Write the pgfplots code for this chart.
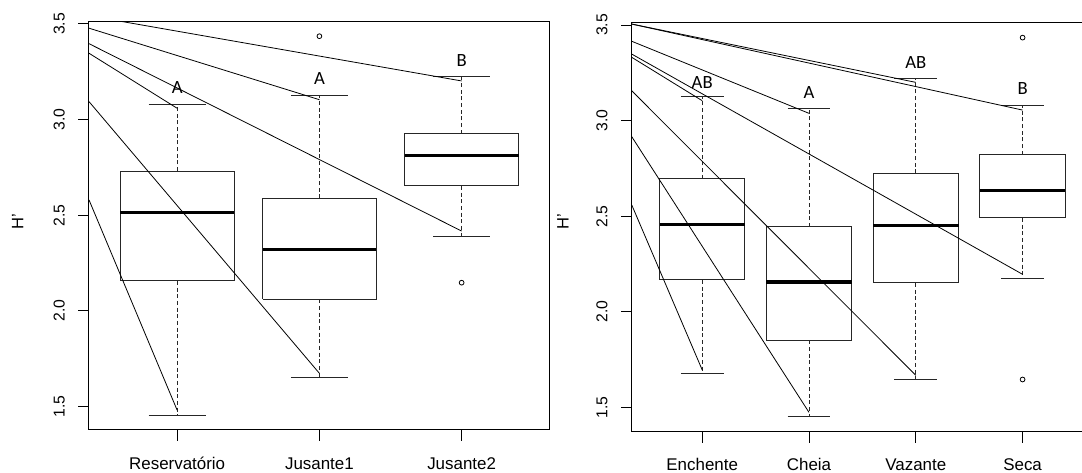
\documentclass[border=0pt]{standalone}
\usepackage{pgfplots}
\pgfplotsset{compat=1.18}
\usepackage{fontspec}
\setmainfont{Liberation Sans}
\newfontfamily\carlito{Carlito}

\pgfplotsset{
  boxst/.style={black!85, line width=0.75pt, no markers},
  medst/.style={black, line width=2.4pt, no markers},
  whst/.style={black!85, line width=0.75pt, dash pattern=on 3pt off 2pt, no markers},
  capst/.style={black!85, line width=0.75pt, no markers},
  diag/.style={black, line width=0.6pt, no markers},
  outl/.style={only marks, mark=o, mark size=1.8pt, black, mark options={line width=0.6pt}},
  rbase/.style={
    scale only axis, anchor=south west,
    axis line style={line width=0.75pt},
    tick style={line width=0.75pt, black},
    tick align=outside, major tick length=8pt,
    xtick pos=bottom, ytick pos=left,
    ytick={1.5,2.0,2.5,3.0,3.5},
    yticklabels={1.5,2.0,2.5,3.0,3.5},
    yticklabel style={rotate=90, anchor=south, inner sep=0pt, font=\fontsize{11.8}{13}\selectfont},
    yticklabel shift=10pt,
    xticklabel style={anchor=base, inner sep=0pt, font=\fontsize{12.7}{14}\selectfont},
    xticklabel shift=21.25pt,
    ylabel={H'},
    ylabel style={anchor=center, font=\fontsize{12.4}{14}\selectfont},
  },
}
\tikzset{letter/.style={anchor=base, inner sep=0pt, font=\carlito\fontsize{14}{16}\selectfont}}

\newcommand{\rbox}[6]{% x, lower whisker, lower quartile, median, upper quartile, upper whisker
  \pgfmathsetmacro{\xl}{#1-0.4}\pgfmathsetmacro{\xr}{#1+0.4}%
  \pgfmathsetmacro{\cl}{#1-0.2}\pgfmathsetmacro{\cr}{#1+0.2}%
  \addplot[boxst] coordinates {(\xl,#3) (\xr,#3) (\xr,#5) (\xl,#5) (\xl,#3)};
  \addplot[medst] coordinates {(\xl,#4) (\xr,#4)};
  \addplot[whst] coordinates {(#1,#5) (#1,#6)};
  \addplot[whst] coordinates {(#1,#3) (#1,#2)};
  \addplot[capst] coordinates {(\cl,#6) (\cr,#6)};
  \addplot[capst] coordinates {(\cl,#2) (\cr,#2)};
}

\begin{document}
\begin{tikzpicture}
\path[use as bounding box] (0,0) rectangle (811.5pt,-354.75pt);

% ---------------- left panel ----------------
\begin{axis}[rbase,
  at={(66.75pt,-322.5pt)}, width=345.6pt, height=306.4pt,
  xmin=0.38, xmax=3.62, ymin=1.3766, ymax=3.5131,
  xtick={1,2,3}, xticklabels={Reservatório,Jusante1,Jusante2},
  ylabel style={at={(axis description cs:-0.155,0.51)}},
]
\rbox{1}{1.455}{2.156}{2.515}{2.731}{3.080}
\rbox{2}{1.649}{2.060}{2.322}{2.588}{3.125}
\rbox{3}{2.391}{2.653}{2.813}{2.926}{3.223}
\addplot[outl] coordinates {(2,3.436) (3,2.147)};
% annotation lines
\addplot[diag] coordinates {(0.38,3.543) (3,3.202)};
\addplot[diag] coordinates {(0.38,3.478) (2,3.104)};
\addplot[diag] coordinates {(0.38,3.397) (3,2.417)};
\addplot[diag] coordinates {(0.38,3.347) (1,3.059)};
\addplot[diag] coordinates {(0.38,3.094) (2,1.673)};
\addplot[diag] coordinates {(0.38,2.580) (1,1.480)};
\node[letter] at (axis cs:1,3.138) {A};
\node[letter] at (axis cs:2,3.181) {A};
\node[letter] at (axis cs:3,3.277) {B};
\end{axis}

% ---------------- right panel ----------------
\begin{axis}[rbase,
  at={(473.8pt,-324pt)}, width=346pt, height=306.75pt,
  xmin=0.34, xmax=4.66, ymin=1.3714, ymax=3.5105,
  xtick={1,2,3,4}, xticklabels={Enchente,Cheia,Vazante,Seca},
  ylabel style={at={(axis description cs:-0.149,0.515)}},
]
\rbox{1}{1.678}{2.167}{2.456}{2.696}{3.124}
\rbox{2}{1.455}{1.850}{2.156}{2.444}{3.061}
\rbox{3}{1.648}{2.151}{2.452}{2.724}{3.220}
\rbox{4}{2.174}{2.491}{2.633}{2.821}{3.077}
\addplot[outl] coordinates {(4,3.434) (4,1.646)};
% annotation lines
\addplot[diag] coordinates {(0.34,3.505) (3,3.200)};
\addplot[diag] coordinates {(0.34,3.505) (4,3.055)};
\addplot[diag] coordinates {(0.34,3.415) (2,3.038)};
\addplot[diag] coordinates {(0.34,3.348) (4,2.196)};
\addplot[diag] coordinates {(0.34,3.331) (1,3.104)};
\addplot[diag] coordinates {(0.34,3.156) (3,1.668)};
\addplot[diag] coordinates {(0.34,2.916) (2,1.474)};
\addplot[diag] coordinates {(0.34,2.559) (1,1.696)};
\node[letter] at (axis cs:1,3.169) {AB};
\node[letter] at (axis cs:2,3.117) {A};
\node[letter] at (axis cs:3,3.274) {AB};
\node[letter] at (axis cs:4,3.134) {B};
\end{axis}
\end{tikzpicture}
\end{document}
